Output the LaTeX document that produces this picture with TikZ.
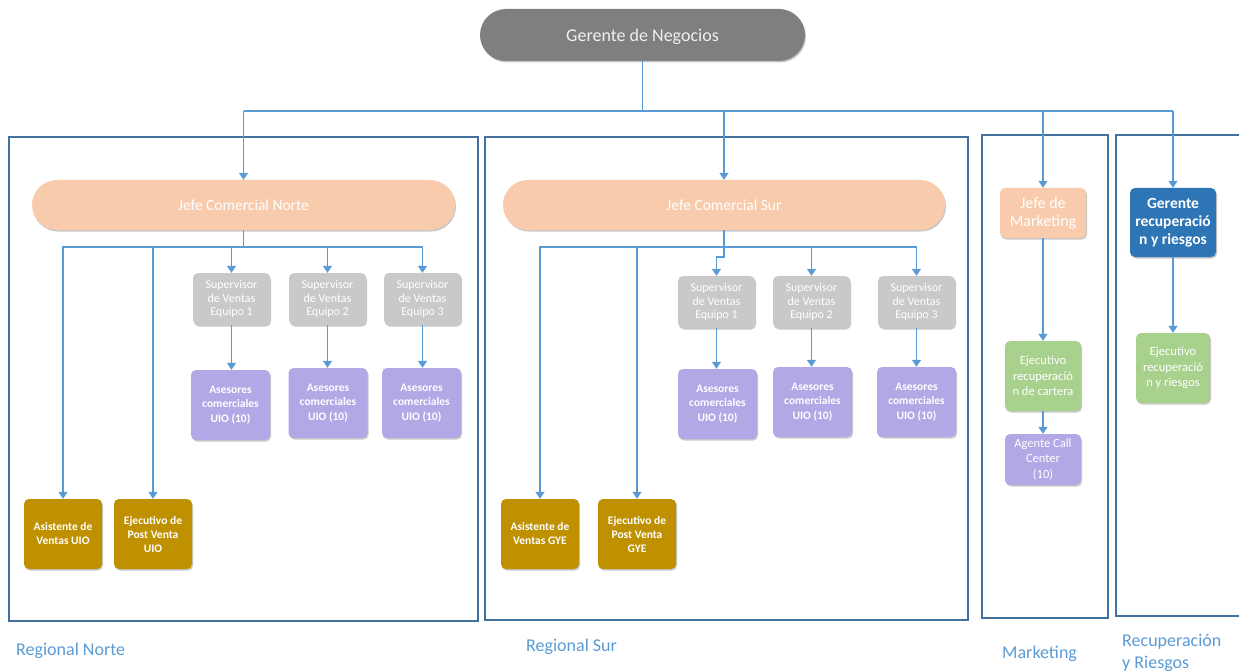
\documentclass[tikz,border=0pt]{standalone}
\usepackage{fontspec}
\setmainfont{Carlito}
\usetikzlibrary{arrows.meta,shadows}
\definecolor{topgray}{HTML}{7F7F7F}
\definecolor{peach}{HTML}{F8CBAD}
\definecolor{supgray}{HTML}{C9C9C9}
\definecolor{lavender}{HTML}{B4A7E6}
\definecolor{gold}{HTML}{BF9000}
\definecolor{leaf}{HTML}{A9D18E}
\definecolor{navy}{HTML}{2E75B6}
\definecolor{wire}{HTML}{5B9BD5}
\definecolor{frame}{HTML}{41719C}
\definecolor{caption}{HTML}{5B9BD5}
\tikzset{
  box/.style={rounded corners=5pt, inner sep=1pt, align=center, text=white,
    font=\fontsize{12}{14}\selectfont,
    drop shadow={shadow xshift=1pt, shadow yshift=-1.5pt, opacity=0.22, fill=black}},
  pill/.style={box, rounded corners=25pt, minimum height=50pt},
  supbox/.style={box, fill=supgray, minimum width=77pt, minimum height=52pt,
    font=\fontsize{12}{13.8}\selectfont},
  asebox/.style={box, fill=lavender, minimum width=79pt, minimum height=70pt,
    font=\bfseries\fontsize{11.5}{14.5}\selectfont},
  goldbox/.style={box, fill=gold, minimum width=78pt, minimum height=70pt,
    font=\bfseries\fontsize{11.5}{14}\selectfont},
  leafbox/.style={box, fill=leaf, minimum width=76pt, minimum height=70pt,
    font=\fontsize{12.5}{15.5}\selectfont},
  region/.style={draw=frame, line width=1.3pt},
  link/.style={draw=wire, line width=1.2pt},
  arr/.style={link, -{Triangle[width=9pt,length=7pt]}},
  regionlabel/.style={text=caption, font=\fontsize{18}{22}\selectfont, inner sep=0pt, align=left}
}
\begin{document}
\begin{tikzpicture}[x=1pt,y=-1pt]
\useasboundingbox (0,0) rectangle (1239,671);

% region frames
\draw[region] (9,137) rectangle (478,621);
\draw[region] (485,137) rectangle (968,620);
\draw[region] (982,135) rectangle (1108,618);
\draw[region] (1116,135) rectangle (1260,616);

% top manager
\node[pill, fill=topgray, minimum width=325pt, minimum height=52pt, rounded corners=26pt,
  text=white!94!black, font=\fontsize{18}{20}\selectfont,
  text height=17pt, text depth=3pt] (gn) at (642.5,35) {Gerente de Negocios};

% heads
\node[pill, fill=peach, minimum width=423pt, font=\fontsize{15.5}{18}\selectfont] (jn) at (243.5,205) {Jefe Comercial Norte};
\node[pill, fill=peach, minimum width=442pt, font=\fontsize{15.5}{18}\selectfont] (js) at (724,205) {Jefe Comercial Sur};
\node[box, fill=peach, minimum width=86pt, minimum height=50pt, font=\fontsize{16}{18}\selectfont] (jm) at (1043,213) {Jefe de\\Marketing};
\node[box, fill=navy, minimum width=86pt, minimum height=69pt, font=\bfseries\fontsize{15.5}{18}\selectfont] (gr) at (1173,222.5) {Gerente\\recuperació\\n y riesgos};

% Regional Norte
\node[supbox] (ns1) at (231.5,299) {Supervisor\\de Ventas\\Equipo 1};
\node[supbox] (ns2) at (327.5,299) {Supervisor\\de Ventas\\Equipo 2};
\node[supbox] (ns3) at (422.5,299) {Supervisor\\de Ventas\\Equipo 3};
\node[asebox] (na1) at (230.5,405) {Asesores\\comerciales\\UIO (10)};
\node[asebox] (na2) at (328,403) {Asesores\\comerciales\\UIO (10)};
\node[asebox] (na3) at (421.5,403) {Asesores\\comerciales\\UIO (10)};
\node[goldbox] (nav) at (63,534) {Asistente de\\Ventas UIO};
\node[goldbox] (npv) at (153,534) {Ejecutivo de\\Post Venta\\UIO};

% Regional Sur
\node[supbox] (ss1) at (716.5,302) {Supervisor\\de Ventas\\Equipo 1};
\node[supbox] (ss2) at (811.5,302) {Supervisor\\de Ventas\\Equipo 2};
\node[supbox] (ss3) at (916.5,302) {Supervisor\\de Ventas\\Equipo 3};
\node[asebox] (sa1) at (717.5,404) {Asesores\\comerciales\\UIO (10)};
\node[asebox] (sa2) at (812.5,402) {Asesores\\comerciales\\UIO (10)};
\node[asebox] (sa3) at (916.5,402) {Asesores\\comerciales\\UIO (10)};
\node[goldbox] (sav) at (540,534) {Asistente de\\Ventas GYE};
\node[goldbox] (spv) at (637,534) {Ejecutivo de\\Post Venta\\GYE};

% Marketing
\node[leafbox] (mc) at (1043,376) {Ejecutivo\\recuperació\\n de cartera};
\node[box, fill=lavender, minimum width=76pt, minimum height=51pt,
  font=\fontsize{12.5}{15.5}\selectfont] (mcc) at (1043,459.5) {Agente Call\\Center\\(10)};

% Recuperacion y Riesgos
\node[leafbox, minimum width=74pt] (rr) at (1173,368) {Ejecutivo\\recuperació\\n y riesgos};

% trunk from the top manager
\coordinate (tj) at (642.5,111);
\coordinate (tl) at (243.5,111);
\coordinate (tr) at (1173,111);
\draw[link] (gn.south) -- (tj);
\draw[link] (tl) -- (tr);
\draw[arr] (tl) -- (jn.north);
\draw[arr] (tj -| js.north) -- (js.north);
\draw[arr] (tj -| jm.north) -- (jm.north);
\draw[arr] (tr) -- (gr.north);

% Norte branches
\coordinate (nb) at (243.5,247);
\draw[link] (jn.south) -- (nb);
\draw[arr] (nb) -| (nav.north);
\draw[arr] (nb) -| (npv.north);
\draw[arr] (nb) -| (ns1.north);
\draw[arr] (nb) -| (ns2.north);
\draw[arr] (nb) -| (ns3.north);
\draw[arr] (ns1.south) -- (ns1.south |- na1.north);
\draw[arr] (ns2.south) -- (ns2.south |- na2.north);
\draw[arr] (ns3.south) -- (ns3.south |- na3.north);

% Sur branches
\coordinate (sb) at (724,247);
\draw[link] (js.south) -- (sb);
\draw[arr] (sb) -- ++(0,10) -| (ss1.north);
\draw[arr] (sb) -| (sav.north);
\draw[arr] (sb) -| (spv.north);
\draw[arr] (sb) -| (ss2.north);
\draw[arr] (sb) -| (ss3.north);
\draw[arr] (ss1.south) -- (ss1.south |- sa1.north);
\draw[arr] (ss2.south) -- (ss2.south |- sa2.north);
\draw[arr] (ss3.south) -- (ss3.south |- sa3.north);

% Marketing and Recuperacion chains
\draw[arr] (jm.south) -- (mc.north);
\draw[arr] (mc.south) -- (mcc.north);
\draw[arr] (gr.south) -- (rr.north);

% region captions
\node[regionlabel, anchor=west] (ln) at (16,651) {Regional Norte};
\node[regionlabel, anchor=west] (ls) at (526,647) {Regional Sur};
\node[regionlabel, anchor=west] (lm) at (1002,654) {Marketing};
\node[regionlabel, anchor=north west] (lr) at (1122,634) {Recuperación\\y Riesgos};
\end{tikzpicture}
\end{document}
